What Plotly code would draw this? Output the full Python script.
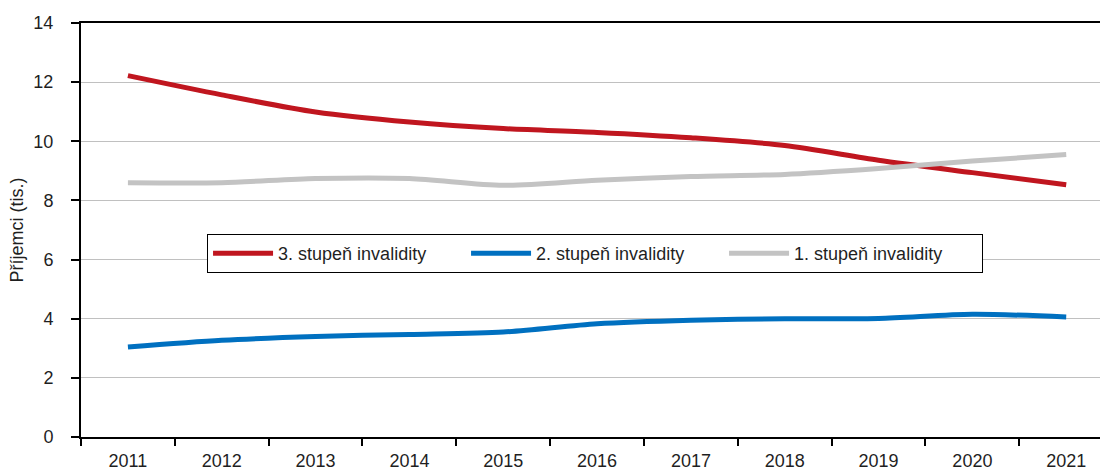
import plotly.graph_objects as go

years = ["2011", "2012", "2013", "2014", "2015", "2016", "2017", "2018", "2019", "2020", "2021"]
stupen3 = [12.22, 11.57, 10.99, 10.65, 10.43, 10.30, 10.12, 9.86, 9.36, 8.94, 8.53]
stupen2 = [3.04, 3.27, 3.40, 3.47, 3.55, 3.83, 3.95, 4.00, 4.01, 4.15, 4.06]
stupen1 = [8.60, 8.60, 8.74, 8.74, 8.51, 8.68, 8.81, 8.88, 9.08, 9.33, 9.55]

series = [
    ("3. stupeň invalidity", stupen3, "#C0161F"),
    ("2. stupeň invalidity", stupen2, "#0070C0"),
    ("1. stupeň invalidity", stupen1, "#C3C3C3"),
]

FONT = "Liberation Sans, Arial, sans-serif"
TXT = "#1f1f1f"

fig = go.Figure()
for name, vals, col in series:
    fig.add_trace(go.Scatter(
        x=years, y=vals, name=name, mode="lines",
        line=dict(color=col, width=5, shape="spline", smoothing=0.8),
    ))

fig.update_layout(
    width=1100, height=470,
    margin=dict(l=81, r=0, t=23, b=33),
    paper_bgcolor="white", plot_bgcolor="white",
    font=dict(family=FONT, size=18, color=TXT),
    showlegend=True,
    legend=dict(
        orientation="h", x=0.1237, y=0.443, xanchor="left", yanchor="middle",
        bgcolor="white", bordercolor="black", borderwidth=1,
        font=dict(family=FONT, size=18, color=TXT),
        itemwidth=60, entrywidth=183,
    ),
)
fig.update_xaxes(
    type="category", range=[-0.5, 10.36],
    showline=True, linecolor="black", linewidth=2, mirror=True,
    ticks="outside", tickson="boundaries", ticklen=7, tickwidth=1.5, tickcolor="black",
    showgrid=False, zeroline=False, ticklabelstandoff=6,
    tickfont=dict(family=FONT, size=18, color=TXT),
)
fig.update_yaxes(
    range=[0, 14], dtick=2, tick0=0,
    showline=True, linecolor="black", linewidth=2,
    ticks="outside", ticklen=8, tickwidth=1.5, tickcolor="black",
    showgrid=True, gridcolor="#C0C0C0", gridwidth=1, zeroline=False,
    ticklabelstandoff=14,
    tickfont=dict(family=FONT, size=18, color=TXT),
    title=dict(text="Příjemci (tis.)", font=dict(family=FONT, size=18, color=TXT), standoff=5),
)

fig.write_html("out.html", config={"displayModeBar": False},
               post_script="document.body.style.margin='0px';")
